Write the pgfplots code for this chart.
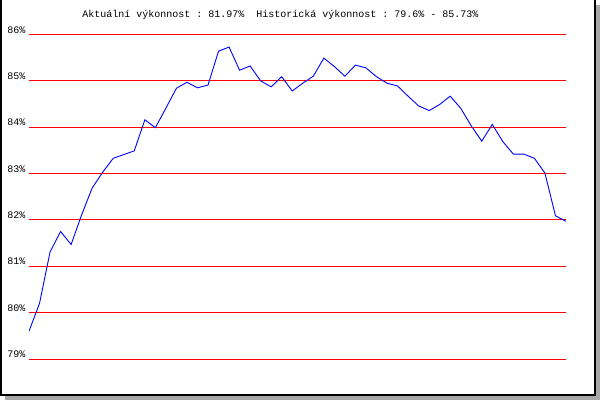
\documentclass[border=0pt]{standalone}
\usepackage{fontspec}
\setmonofont{Liberation Mono}
\usepackage{pgfplots}
\pgfplotsset{compat=1.18}
\definecolor{shadow}{RGB}{168,168,168}
\begin{document}
\begin{tikzpicture}[x=1pt,y=1pt]
\useasboundingbox (0,0) rectangle (600,400);
% frame with shadow
\fill[shadow] (596,0) rectangle (600,395);
\fill[shadow] (5,0) rectangle (600,4);
\fill[black] (0,4) rectangle (2,400);
\fill[black] (0,4) rectangle (596,6.5);
\fill[black] (593.5,4) rectangle (596,400);
\node[anchor=base, inner sep=0pt, font=\ttfamily\fontsize{10}{12}\selectfont]
  at (280.5,382.7) {Aktuální výkonnost : 81.97\%\ \ Historická výkonnost : 79.6\% - 85.73\%};
\begin{axis}[
    at={(29pt,41pt)}, anchor=south west,
    scale only axis,
    width=537pt, height=324.5pt,
    xmin=0, xmax=51,
    ymin=79, ymax=86,
    axis line style={draw=none},
    tick style={draw=none},
    xtick=\empty,
    ytick={79,80,81,82,83,84,85,86},
    yticklabels={79\%,80\%,81\%,82\%,83\%,84\%,85\%,86\%},
    yticklabel style={anchor=base east, inner sep=0pt, xshift=-3.5pt, yshift=1.5pt,
        font=\ttfamily\fontsize{10}{12}\selectfont},
    ymajorgrids,
    grid style={red, line width=1pt},
]
\addplot[blue, line width=0.9pt] coordinates {
 (0,79.60) (1,80.20) (2,81.31) (3,81.75) (4,81.47) (5,82.11) (6,82.69) (7,83.03)
 (8,83.33) (9,83.41) (10,83.49) (11,84.16) (12,83.99) (13,84.41) (14,84.84) (15,84.97)
 (16,84.85) (17,84.91) (18,85.64) (19,85.73) (20,85.23) (21,85.32) (22,85.00) (23,84.87)
 (24,85.09) (25,84.78) (26,84.95) (27,85.10) (28,85.49) (29,85.31) (30,85.10) (31,85.34)
 (32,85.28) (33,85.09) (34,84.95) (35,84.89) (36,84.67) (37,84.46) (38,84.36) (39,84.49)
 (40,84.67) (41,84.41) (42,84.03) (43,83.70) (44,84.06) (45,83.69) (46,83.42) (47,83.42)
 (48,83.33) (49,83.01) (50,82.09) (51,81.97)
};
\end{axis}
\end{tikzpicture}
\end{document}
